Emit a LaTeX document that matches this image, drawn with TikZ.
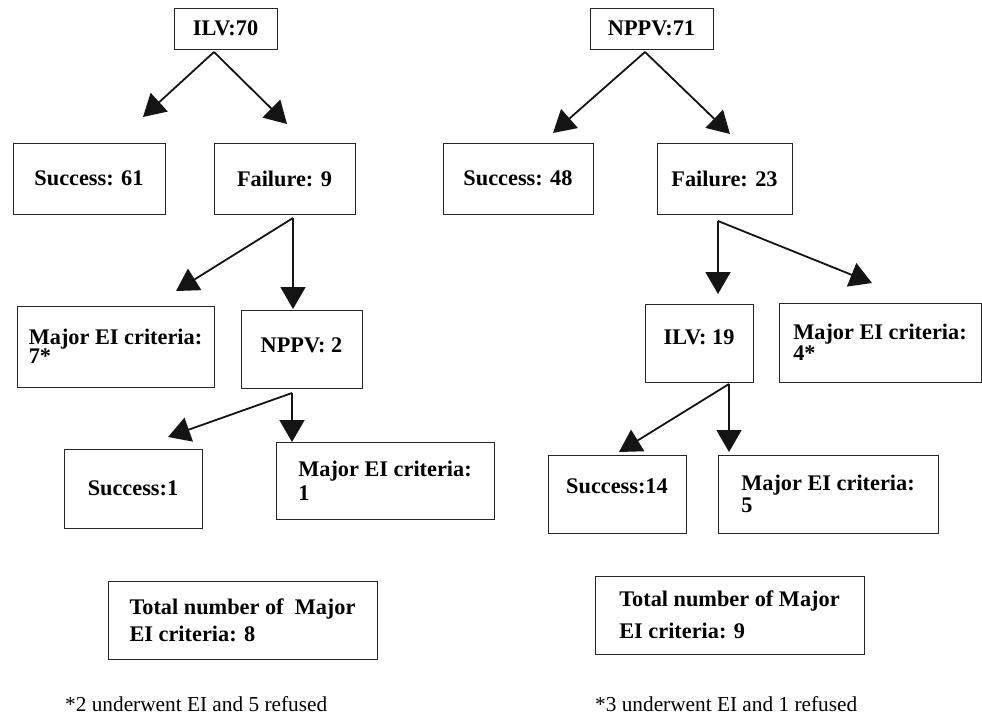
\documentclass[tikz,border=0pt]{standalone}
\usepackage{fontspec}
\setmainfont{Liberation Serif}
\usetikzlibrary{arrows.meta}
\begin{document}
\begin{tikzpicture}[x=1pt,y=-1pt,
  box/.style={draw=black!85, line width=1pt, inner sep=0pt, align=left,
    font=\bfseries\fontsize{22.3}{20}\selectfont},
  arr/.style={draw=black!92, line width=1.8pt, -{Triangle[length=22pt,width=25pt]}},
  note/.style={inner sep=0pt, anchor=base west, font=\fontsize{21.3}{24}\selectfont}]
\useasboundingbox (0,0) rectangle (982,716);
% ---------- left tree ----------
\node[box, minimum width=103, minimum height=41] (ilv70) at (225.5,28.5) {ILV:70};
\node[box, minimum width=152, minimum height=71] (s61) at (89,178.5) {Success: 61};
\node[box, minimum width=141, minimum height=71] (f9) at (284.5,178.5) {Failure: 9};
\node[box, minimum width=197, minimum height=81] (m7) at (115.5,346.5) {Major EI criteria:\\[-0.5pt]7*};
\node[box, minimum width=121, minimum height=78] (n2) at (301.5,349) {\raisebox{3.5pt}[\height][\depth]{NPPV: 2}};
\node[box, minimum width=138, minimum height=79] (s1) at (133,488.5) {Success:1};
\node[box, minimum width=218, minimum height=77] (m1) at (385,480.5) {Major EI criteria:\\[4pt]1};
\node[box, minimum width=269, minimum height=78] (tot1) at (242.5,620) {Total number of\ \ Major\\[5.7pt]EI criteria: 8};
\node[note] (fn1) at (65,711) {*2 underwent EI and 5 refused};
\coordinate (a1) at (214,52);
\coordinate (t1) at (143,117);
\coordinate (t2) at (287,124);
\coordinate (a2) at (293,218);
\coordinate (t3) at (176,291);
\coordinate (t4) at (293,309);
\coordinate (a3) at (292,393);
\coordinate (t5) at (168,437);
\coordinate (t6) at (292,442);
\draw[arr] (a1) -- (t1);
\draw[arr] (a1) -- (t2);
\draw[arr] (a2) -- (t3);
\draw[arr] (a2) -- (t4);
\draw[arr] (a3) -- (t5);
\draw[arr] (a3) -- (t6);
% ---------- right tree ----------
\node[box, minimum width=123, minimum height=41] (nppv71) at (651.5,28.5) {NPPV:71};
\node[box, minimum width=150, minimum height=71] (s48) at (518,178.5) {Success: 48};
\node[box, minimum width=135, minimum height=71] (f23) at (724.5,178.5) {Failure: 23};
\node[box, minimum width=108, minimum height=78] (ilv19) at (699,343) {\raisebox{5.5pt}[\height][\depth]{ILV: 19}};
\node[box, minimum width=202, minimum height=79] (m4) at (880,342.5) {Major EI criteria:\\[1.5pt]4*};
\node[box, minimum width=138, minimum height=78] (s14) at (617,494) {\raisebox{8pt}[\height][\depth]{Success:14}};
\node[box, minimum width=220, minimum height=78] (m5) at (828,494) {Major EI criteria:\\[2pt]5};
\node[box, minimum width=269, minimum height=78] (tot2) at (729.5,615) {Total number of Major\\[11pt]EI criteria: 9};
\node[note] (fn2) at (595,711) {*3 underwent EI and 1 refused};
\coordinate (a4) at (645,52);
\coordinate (t7) at (553,133);
\coordinate (t8) at (730,134);
\coordinate (a5) at (718,221);
\coordinate (t9) at (718,294);
\coordinate (t10) at (872,283);
\coordinate (a6) at (729,384);
\coordinate (t11) at (619,452);
\coordinate (t12) at (729,452);
\draw[arr] (a4) -- (t7);
\draw[arr] (a4) -- (t8);
\draw[arr] (a5) -- (t9);
\draw[arr] (a5) -- (t10);
\draw[arr] (a6) -- (t11);
\draw[arr] (a6) -- (t12);
\end{tikzpicture}
\end{document}
